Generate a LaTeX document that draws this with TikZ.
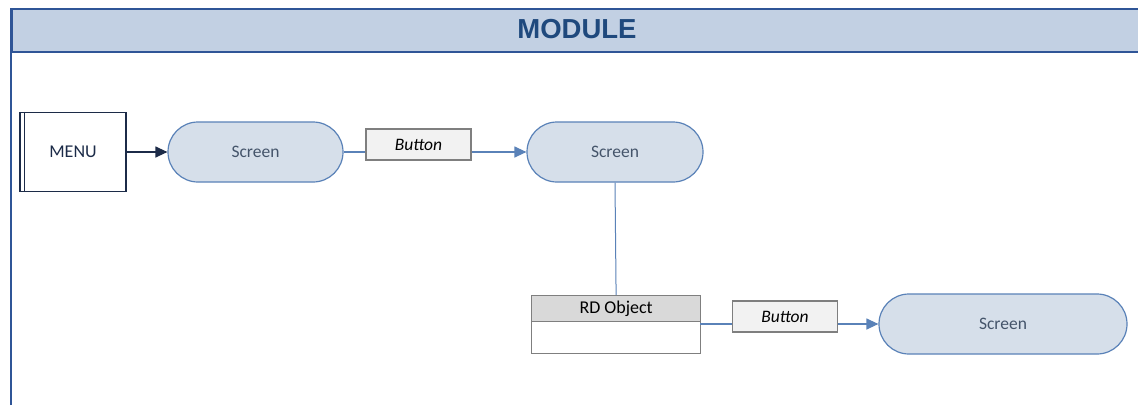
\documentclass[tikz,border=0pt]{standalone}
\usepackage{fontspec}
\setmainfont{Carlito}
\newfontfamily\headfont{Liberation Sans}
\usetikzlibrary{arrows.meta,positioning}
\definecolor{hdrfill}{HTML}{C2D0E3}
\definecolor{hdrline}{HTML}{2F5597}
\definecolor{hdrtext}{HTML}{1F497D}
\definecolor{scrfill}{HTML}{D6DFEA}
\definecolor{scrline}{HTML}{5A82B8}
\definecolor{scrtext}{HTML}{44546A}
\definecolor{navy}{HTML}{1C2B48}
\definecolor{btnfill}{HTML}{F2F2F2}
\definecolor{btnline}{HTML}{7F7F7F}
\definecolor{objhead}{HTML}{D9D9D9}
\tikzset{
  screenbox/.style={draw=scrline, line width=1.2pt, fill=scrfill, rounded corners=30pt,
    minimum height=60pt, text=scrtext, font=\fontsize{17.5}{20}\selectfont, inner sep=0pt},
  buttonbox/.style={draw=btnline, line width=1.2pt, fill=btnfill, minimum height=31pt,
    minimum width=105pt, font=\fontsize{17.5}{20}\selectfont\itshape, inner sep=0pt},
  flow/.style={draw=scrline, line width=1.2pt, -{Triangle[length=12pt,width=11pt]}},
  x=1pt, y=-1pt
}
\begin{document}
\begin{tikzpicture}
\clip (0,0) rectangle (1138,405);
\fill[white] (0,0) rectangle (1138,405);
% frame
\draw[hdrline, line width=1.3pt] (11,405) -- (11,8);
\node[draw=hdrline, line width=2pt, fill=hdrfill, anchor=north west, minimum width=1140pt,
  minimum height=43pt, inner sep=0pt] (hdr) at (11,8) {};
\node[font=\headfont\bfseries\fontsize{27.5}{30}\selectfont, text=hdrtext] (title) at (577,29.5) {MODULE};
% MENU
\node[draw=navy, line width=1.2pt, fill=white, minimum width=106pt, minimum height=79pt,
  inner sep=0pt, font=\fontsize{18}{20}\selectfont, text=navy] (menu) at (73,152) {MENU};
\draw[navy, line width=1.2pt] ([xshift=5pt]menu.north west) -- ([xshift=5pt]menu.south west);
% screens
\node[screenbox, minimum width=175pt] (s1) at (255.5,152) {Screen};
\node[screenbox, minimum width=176pt] (s2) at (615,152) {Screen};
\node[screenbox, minimum width=248pt] (s3) at (1003,324) {Screen};
% RD object
\node[draw=btnline, line width=1.2pt, fill=objhead, minimum width=169pt, minimum height=26pt,
  inner sep=0pt, anchor=north west, font=\fontsize{18}{20}\selectfont] (objh) at (531,295) {RD Object};
\node[draw=btnline, line width=1.2pt, fill=white, minimum width=169pt, minimum height=32pt,
  inner sep=0pt, anchor=north west] (objb) at (531,321) {};
% connectors
\draw[navy, line width=1.2pt, -{Triangle[length=12pt,width=11pt]}] (menu.east) -- (s1.west);
\draw[flow] (s1.east) -- (s2.west);
\draw[scrline, line width=1pt] (s2.south) -- (objh.north);
\coordinate (objout) at (700,324);
\draw[flow] (objout) -- (s3.west);
% buttons
\node[buttonbox] (b1) at (418.5,144.5) {Button};
\node[buttonbox] (b2) at (785,316.5) {Button};
\end{tikzpicture}
\end{document}
